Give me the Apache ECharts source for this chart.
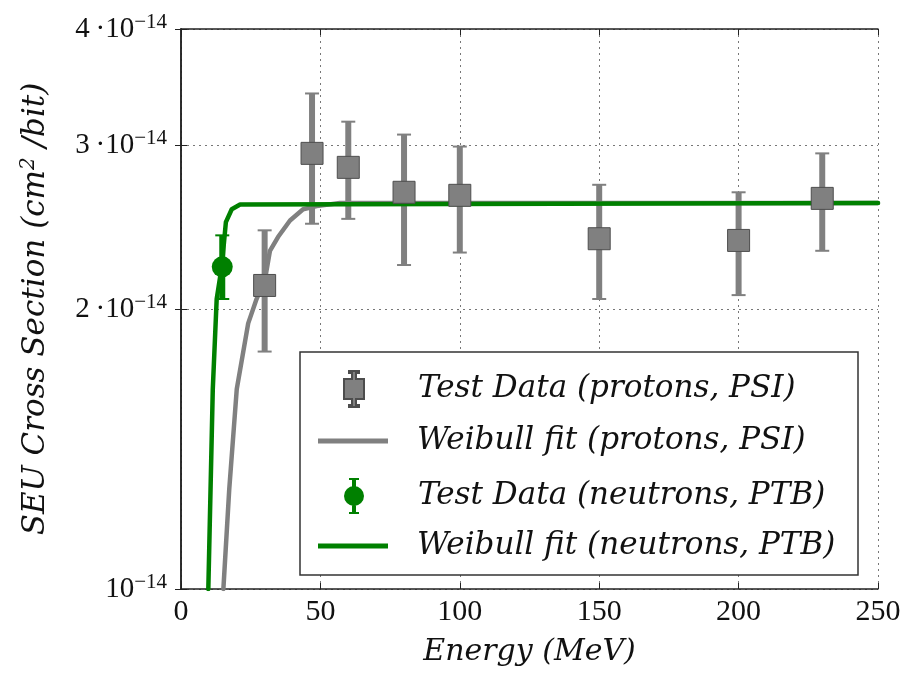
<!DOCTYPE html>
<html>
<head>
<meta charset="utf-8">
<script src="https://cdn.jsdelivr.net/npm/echarts@6/dist/echarts.min.js"></script>
<style>
  html, body { margin: 0; padding: 0; background: #fff; }
  #main { width: 905px; height: 674px; }
</style>
</head>
<body>
<div id="main"></div>
<script>
// proton test data (PSI): energy in MeV, cross section in cm^2/bit
var protonEnergy = [30, 47, 60, 80, 100, 150, 200, 230];
var protonSigma  = [2.12e-14, 2.94e-14, 2.84e-14, 2.67e-14, 2.65e-14, 2.38e-14, 2.37e-14, 2.63e-14];
var protonLow    = [1.80e-14, 2.47e-14, 2.50e-14, 2.23e-14, 2.30e-14, 2.05e-14, 2.07e-14, 2.31e-14];
var protonHigh   = [2.43e-14, 3.41e-14, 3.18e-14, 3.08e-14, 2.99e-14, 2.72e-14, 2.67e-14, 2.94e-14];

// neutron test data (PTB)
var neutronEnergy = [14.8];
var neutronSigma  = [2.22e-14];
var neutronLow    = [2.05e-14];
var neutronHigh   = [2.40e-14];

// weibull fits
var protonFitE   = [15.2, 17.3, 20.0, 24.1, 27.1, 30.1, 31.9, 34.8, 39.1, 43.8, 48.7, 57, 250];
var protonFitS   = [1.0e-14, 1.28e-14, 1.64e-14, 1.93e-14, 2.05e-14, 2.15e-14, 2.31e-14, 2.39e-14, 2.49e-14, 2.56e-14, 2.58e-14, 2.60e-14, 2.60e-14];
var neutronFitE  = [9.8, 11.4, 12.8, 14.6, 16.1, 18.2, 21.2, 250];
var neutronFitS  = [1.0e-14, 1.64e-14, 2.05e-14, 2.22e-14, 2.48e-14, 2.56e-14, 2.59e-14, 2.60e-14];

var yTicks = [1e-14, 2e-14, 3e-14, 4e-14];

var GRAY = '#808080';
var GREEN = '#008000';
var FONT = 'Liberation Serif';
var ITALIC = 'DejaVu Serif';

function zip(a, b) { return a.map(function (v, i) { return [v, b[i]]; }); }
function zip3(a, b, c) { return a.map(function (v, i) { return [v, b[i], c[i]]; }); }

function yLabel(v) {
    var m = Math.round(v / 1e-14);
    if (m === 1) return '{b|10}{s|\u221214}';
    return '{b|' + m + '\u2009\u00b710}{s|\u221214}';
}

function errorBars(color) {
    return function (params, api) {
        var x = api.value(0);
        var top = api.coord([x, api.value(2)]);
        var bot = api.coord([x, api.value(1)]);
        var cap = 7;
        return {
            type: 'group',
            children: [
                { type: 'line', shape: { x1: top[0], y1: top[1], x2: bot[0], y2: bot[1] },
                  style: { stroke: color, lineWidth: 6 } },
                { type: 'line', shape: { x1: top[0] - cap, y1: top[1], x2: top[0] + cap, y2: top[1] },
                  style: { stroke: color, lineWidth: 2 } },
                { type: 'line', shape: { x1: bot[0] - cap, y1: bot[1], x2: bot[0] + cap, y2: bot[1] },
                  style: { stroke: color, lineWidth: 2 } }
            ]
        };
    };
}

var squareErrIcon = 'path://M5,0H15V2H12V8H20V28H12V34H15V36H5V34H8V28H0V8H8V2H5Z';
var circleErrIcon = 'path://M5,0H15V2H12V34H15V36H5V34H8V2H5ZM0,18A10,10 0 1 1 20,18A10,10 0 1 1 0,18Z';

var axisLine = { show: true, lineStyle: { color: '#222', width: 1.5 } };
var gridLine = { show: true, lineStyle: { color: '#777', width: 1, type: [2, 4] } };

var myChart = echarts.init(document.getElementById('main'));

var option = {
    backgroundColor: '#fff',
    animation: false,
    grid: { left: 181, right: 27, top: 29, bottom: 85, containLabel: false, outerBoundsMode: 'none' },
    legend: [{
        orient: 'vertical',
        left: 338, top: 365,
        itemWidth: 20, itemHeight: 36, itemGap: 70,
        z: 10,
        textStyle: { fontFamily: ITALIC, fontStyle: 'italic', fontSize: 31, color: '#111', lineHeight: 36, padding: [0, 0, 0, 49] },
        data: [
            { name: 'Test Data (protons, PSI)', icon: squareErrIcon },
            { name: 'Test Data (neutrons, PTB)', icon: circleErrIcon }
        ]
    }, {
        orient: 'vertical',
        left: 313, top: 418,
        itemWidth: 70, itemHeight: 5, itemGap: 69,
        icon: 'rect',
        z: 10,
        textStyle: { fontFamily: ITALIC, fontStyle: 'italic', fontSize: 31, color: '#111', lineHeight: 36, padding: [0, 0, 0, 24] },
        data: ['Weibull fit (protons, PSI)', 'Weibull fit (neutrons, PTB)']
    }],
    graphic: [{
        type: 'rect',
        z: 9,
        shape: { x: 300, y: 352, width: 558, height: 223 },
        style: { fill: '#fff', stroke: '#333', lineWidth: 1.5 }
    }],
    xAxis: [{
        type: 'value', min: 0, max: 250, interval: 50,
        axisLine: axisLine,
        axisTick: { show: true, inside: true, length: 6, lineStyle: { color: '#222' } },
        axisLabel: { fontFamily: FONT, fontSize: 30, color: '#111', margin: 8 },
        splitLine: gridLine,
        name: 'Energy (MeV)', nameLocation: 'middle', nameGap: 48,
        nameTextStyle: { fontFamily: ITALIC, fontStyle: 'italic', fontSize: 30, color: '#111' }
    }, {
        type: 'value', min: 0, max: 250, interval: 50, position: 'top',
        axisLine: axisLine,
        axisTick: { show: true, inside: true, length: 6, lineStyle: { color: '#222' } },
        axisLabel: { show: false },
        splitLine: { show: false }
    }],
    yAxis: [{
        type: 'log', logBase: 10, min: 1e-14, max: 4e-14,
        axisLine: axisLine,
        axisTick: { show: true, inside: true, length: 6, customValues: yTicks, lineStyle: { color: '#222' } },
        minorTick: { show: false },
        axisLabel: {
            customValues: yTicks, margin: 14, formatter: yLabel,
            rich: {
                b: { fontFamily: FONT, fontSize: 29, color: '#111' },
                s: { fontFamily: FONT, fontSize: 21, color: '#111', padding: [0, 0, 14, 0] }
            }
        },
        splitLine: gridLine,
        name: 'SEU Cross Section (cm{s|2} /bit)', nameLocation: 'middle', nameGap: 128, nameRotate: 90,
        nameTextStyle: {
            fontFamily: ITALIC, fontStyle: 'italic', fontSize: 31, color: '#111',
            rich: { s: { fontFamily: ITALIC, fontStyle: 'italic', fontSize: 20, color: '#111', padding: [0, 0, 14, 0] } }
        }
    }, {
        type: 'log', logBase: 10, min: 1e-14, max: 4e-14, position: 'right',
        axisLine: axisLine,
        axisTick: { show: true, inside: true, length: 6, customValues: yTicks, lineStyle: { color: '#222' } },
        minorTick: { show: false },
        axisLabel: { show: false },
        splitLine: { show: false }
    }],
    series: [{
        name: 'protonErr', type: 'custom', z: 1,
        renderItem: errorBars(GRAY),
        encode: { x: 0, y: [1, 2] },
        data: zip3(protonEnergy, protonLow, protonHigh)
    }, {
        name: 'neutronErr', type: 'custom', z: 1,
        renderItem: errorBars(GREEN),
        encode: { x: 0, y: [1, 2] },
        data: zip3(neutronEnergy, neutronLow, neutronHigh)
    }, {
        name: 'Weibull fit (protons, PSI)', type: 'line', z: 2,
        color: GRAY, showSymbol: false, symbol: 'none', clip: true,
        lineStyle: { color: GRAY, width: 4.5, join: 'round', cap: 'round' },
        data: zip(protonFitE, protonFitS)
    }, {
        name: 'Weibull fit (neutrons, PTB)', type: 'line', z: 2,
        color: GREEN, showSymbol: false, symbol: 'none', clip: true,
        lineStyle: { color: GREEN, width: 4.5, join: 'round', cap: 'round' },
        data: zip(neutronFitE, neutronFitS)
    }, {
        name: 'Test Data (protons, PSI)', type: 'scatter', z: 3,
        symbol: 'rect', symbolSize: 22,
        itemStyle: { color: GRAY, borderColor: '#4d4d4d', borderWidth: 1, opacity: 1 },
        data: zip(protonEnergy, protonSigma)
    }, {
        name: 'Test Data (neutrons, PTB)', type: 'scatter', z: 3,
        symbol: 'circle', symbolSize: 21,
        itemStyle: { color: GREEN, opacity: 1 },
        data: zip(neutronEnergy, neutronSigma)
    }]
};

myChart.setOption(option);
</script>
</body>
</html>
